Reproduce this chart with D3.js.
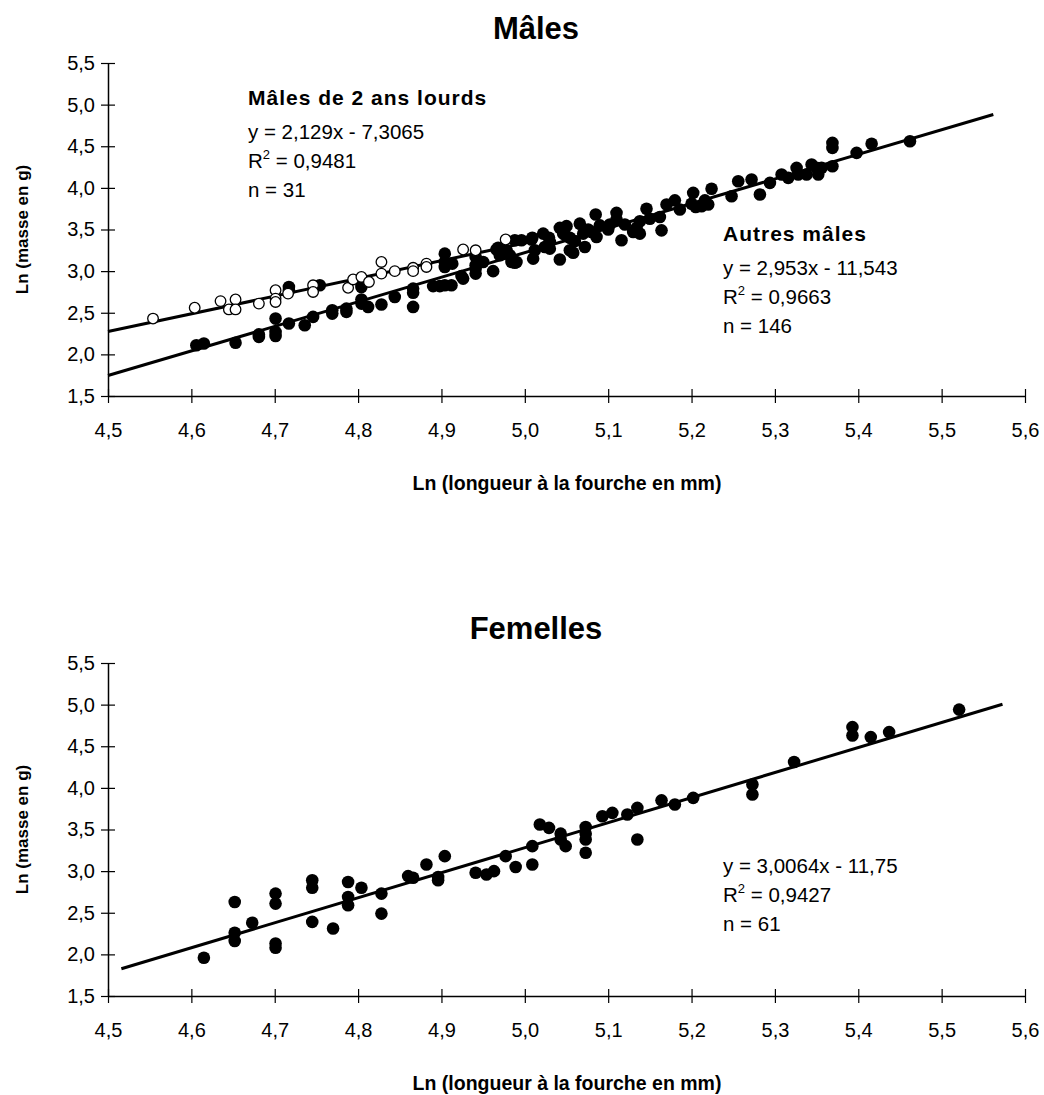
<!DOCTYPE html>
<html>
<head>
<meta charset="utf-8">
<script src="https://cdn.jsdelivr.net/npm/d3@7"></script>
<style>
  body { margin: 0; background: #fff; }
  svg { font-family: "Liberation Sans", Arial, sans-serif; }
</style>
</head>
<body>
<svg id="chart" width="1044" height="1095"></svg>
<script>
// x ticks and y ticks shared by both panels
const xTicks = [4.5, 4.6, 4.7, 4.8, 4.9, 5.0, 5.1, 5.2, 5.3, 5.4, 5.5, 5.6];
const yTicks = [1.5, 2.0, 2.5, 3.0, 3.5, 4.0, 4.5, 5.0, 5.5];

// Mâles de 2 ans lourds (open circles)
const malesHeavy = [
  [4.554, 2.43], [4.604, 2.56], [4.635, 2.64], [4.645, 2.54], [4.653, 2.66],
  [4.653, 2.54], [4.681, 2.61], [4.701, 2.77], [4.701, 2.67], [4.701, 2.63],
  [4.716, 2.73], [4.746, 2.83], [4.746, 2.75], [4.788, 2.80], [4.794, 2.90],
  [4.804, 2.93], [4.813, 2.87], [4.828, 3.11], [4.828, 2.97], [4.844, 3.00],
  [4.866, 3.04], [4.866, 3.00], [4.882, 3.09], [4.882, 3.05], [4.926, 3.26],
  [4.941, 3.25], [4.977, 3.38]
];

// Autres mâles (filled circles)
const malesOther = [
  [4.606, 2.11], [4.615, 2.13], [4.653, 2.14], [4.681, 2.24], [4.681, 2.21],
  [4.701, 2.43], [4.701, 2.27], [4.701, 2.22], [4.717, 2.37], [4.717, 2.81],
  [4.717, 2.77], [4.736, 2.35], [4.746, 2.45], [4.754, 2.83], [4.769, 2.49],
  [4.769, 2.53], [4.786, 2.51], [4.786, 2.55], [4.804, 2.66], [4.804, 2.61],
  [4.804, 2.81], [4.804, 2.86], [4.812, 2.57], [4.828, 2.60], [4.844, 2.69],
  [4.866, 2.79], [4.866, 2.74], [4.866, 2.57], [4.890, 2.82], [4.898, 2.82],
  [4.904, 2.83], [4.904, 3.21], [4.904, 3.11], [4.904, 3.05], [4.912, 2.83],
  [4.913, 3.09], [4.924, 2.94], [4.926, 2.91], [4.941, 2.97], [4.941, 3.03],
  [4.941, 3.17], [4.941, 3.07], [4.950, 3.11], [4.962, 3.00], [4.966, 3.26],
  [4.968, 3.28], [4.970, 3.19], [4.978, 3.25], [4.982, 3.19], [4.984, 3.11],
  [4.988, 3.37], [4.988, 3.10], [4.990, 3.11], [4.996, 3.37], [5.008, 3.38],
  [5.009, 3.40], [5.010, 3.15], [5.012, 3.25], [5.022, 3.45], [5.024, 3.29],
  [5.029, 3.40], [5.030, 3.35], [5.030, 3.27], [5.042, 3.52], [5.042, 3.14],
  [5.046, 3.45], [5.048, 3.44], [5.050, 3.54], [5.054, 3.25], [5.054, 3.40],
  [5.058, 3.22], [5.060, 3.36], [5.066, 3.57], [5.070, 3.45], [5.072, 3.29],
  [5.076, 3.50], [5.080, 3.47], [5.085, 3.68], [5.086, 3.41], [5.090, 3.55],
  [5.100, 3.50], [5.102, 3.56], [5.110, 3.70], [5.110, 3.62], [5.116, 3.37],
  [5.120, 3.56], [5.130, 3.47], [5.134, 3.52], [5.138, 3.60], [5.138, 3.45],
  [5.146, 3.75], [5.150, 3.63], [5.162, 3.65], [5.164, 3.49], [5.170, 3.80],
  [5.180, 3.85], [5.186, 3.74], [5.200, 3.81], [5.202, 3.94], [5.205, 3.77],
  [5.212, 3.78], [5.216, 3.85], [5.220, 3.80], [5.224, 3.99], [5.248, 3.90],
  [5.256, 4.08], [5.272, 4.10], [5.282, 3.92], [5.294, 4.06], [5.308, 4.16],
  [5.316, 4.12], [5.326, 4.24], [5.328, 4.16], [5.338, 4.16], [5.344, 4.28],
  [5.350, 4.24], [5.352, 4.16], [5.356, 4.24], [5.369, 4.54], [5.369, 4.48],
  [5.369, 4.26], [5.398, 4.42], [5.416, 4.53], [5.462, 4.56]
];

// Femelles
const females = [
  [4.615, 1.96], [4.652, 2.63], [4.652, 2.26], [4.652, 2.16], [4.673, 2.38],
  [4.701, 2.73], [4.701, 2.61], [4.701, 2.13], [4.701, 2.08], [4.745, 2.89],
  [4.745, 2.80], [4.745, 2.39], [4.770, 2.31], [4.788, 2.87], [4.788, 2.69],
  [4.788, 2.59], [4.804, 2.80], [4.828, 2.73], [4.828, 2.49], [4.860, 2.94],
  [4.866, 2.92], [4.882, 3.08], [4.896, 2.93], [4.896, 2.89], [4.904, 3.18],
  [4.941, 2.98], [4.954, 2.96], [4.963, 3.00], [4.977, 3.18], [4.989, 3.05],
  [5.009, 3.30], [5.009, 3.08], [5.018, 3.56], [5.029, 3.52], [5.043, 3.45],
  [5.043, 3.38], [5.049, 3.30], [5.073, 3.53], [5.073, 3.45], [5.073, 3.38],
  [5.073, 3.22], [5.093, 3.66], [5.105, 3.70], [5.123, 3.68], [5.135, 3.76],
  [5.135, 3.38], [5.164, 3.85], [5.180, 3.80], [5.202, 3.88], [5.273, 4.04],
  [5.273, 3.92], [5.323, 4.31], [5.393, 4.73], [5.393, 4.63], [5.415, 4.61],
  [5.437, 4.67], [5.521, 4.94]
];

// trendlines: slope, intercept, x range
const trendHeavy = { a: 2.129, b: -7.3065, x0: 4.5, x1: 5.01 };
const trendOther = { a: 2.953, b: -11.543, x0: 4.5, x1: 5.562 };
const trendFemales = { a: 3.0064, b: -11.75, x0: 4.516, x1: 5.573 };

const svg = d3.select('#chart');
const fmt = d => d3.format('.1f')(d).replace('.', ',');

function drawPanel(top, title, datasets, trends, notes) {
  const x = d3.scaleLinear().domain([4.5, 5.6]).range([108, 1025]);
  const y = d3.scaleLinear().domain([1.5, 5.5]).range([top + 333, top]);
  const g = svg.append('g');

  g.append('text')
    .attr('x', 536).attr('y', top - 24)
    .attr('text-anchor', 'middle')
    .attr('font-size', 31).attr('font-weight', 'bold')
    .text(title);

  // x axis
  const xa = g.append('g')
    .attr('transform', `translate(0,${y(1.5)})`)
    .call(d3.axisBottom(x).tickValues(xTicks).tickFormat(fmt).tickSizeOuter(0));
  xa.select('.domain').attr('stroke-width', 1.5);
  xa.selectAll('.tick line').attr('y1', -7).attr('y2', 7).attr('stroke-width', 1.2);
  xa.selectAll('.tick text').attr('y', 27).attr('font-size', 20).attr('fill', '#000')
    .attr('font-family', '"Liberation Sans", Arial, sans-serif');

  // y axis
  const ya = g.append('g')
    .attr('transform', `translate(${x(4.5)},0)`)
    .call(d3.axisLeft(y).tickValues(yTicks).tickFormat(fmt).tickSizeOuter(0));
  ya.select('.domain').attr('stroke-width', 1.5);
  ya.selectAll('.tick line').attr('x1', -7).attr('x2', 7).attr('stroke-width', 1.2);
  ya.selectAll('.tick text').attr('x', -13).attr('font-size', 20).attr('fill', '#000')
    .attr('font-family', '"Liberation Sans", Arial, sans-serif');

  // axis titles
  g.append('text')
    .attr('x', 567).attr('y', y(1.5) + 94)
    .attr('text-anchor', 'middle')
    .attr('font-size', 19.5).attr('font-weight', 'bold')
    .text('Ln (longueur à la fourche en mm)');
  g.append('text')
    .attr('transform', `translate(28,${(y(1.5) + y(5.5)) / 2}) rotate(-90)`)
    .attr('text-anchor', 'middle')
    .attr('font-size', 17).attr('font-weight', 'bold')
    .text('Ln (masse en g)');

  // trendlines
  for (const t of trends) {
    g.append('line')
      .attr('x1', x(t.x0)).attr('y1', y(t.a * t.x0 + t.b))
      .attr('x2', x(t.x1)).attr('y2', y(t.a * t.x1 + t.b))
      .attr('stroke', '#000').attr('stroke-width', 3);
  }

  // points
  for (const ds of datasets) {
    g.append('g').selectAll('circle')
      .data(ds.data)
      .enter().append('circle')
      .attr('cx', d => x(d[0]))
      .attr('cy', d => y(d[1]))
      .attr('r', ds.open ? 5.3 : 6.3)
      .attr('fill', ds.open ? '#fff' : '#000')
      .attr('stroke', '#000')
      .attr('stroke-width', ds.open ? 1.3 : 0);
  }

  // annotations
  for (const n of notes) {
    const t = g.append('g').attr('transform', `translate(${n.x},${top + n.y})`);
    let yy = 0;
    n.lines.forEach((line, i) => {
      if (i > 0) yy += (n.lines[i - 1].bold ? 34 : 29);
      const txt = t.append('text')
        .attr('y', yy)
        .attr('font-size', line.bold ? 21 : 20.5)
        .attr('font-weight', line.bold ? 'bold' : 'normal')
        .attr('letter-spacing', line.bold ? 1 : 0);
      if (line.sup) {
        txt.append('tspan').text('R');
        txt.append('tspan').attr('dy', -9).attr('font-size', 13).text('2');
        txt.append('tspan').attr('dy', 9).text(line.sup);
      } else {
        txt.text(line.text);
      }
    });
  }
}

drawPanel(63, 'Mâles',
  [{ data: malesOther, open: false }, { data: malesHeavy, open: true }],
  [trendHeavy, trendOther],
  [
    { x: 248, y: 42, lines: [
      { text: 'Mâles de 2 ans lourds', bold: true },
      { text: 'y = 2,129x - 7,3065' },
      { sup: ' = 0,9481' },
      { text: 'n = 31' }
    ] },
    { x: 723, y: 178, lines: [
      { text: 'Autres mâles', bold: true },
      { text: 'y = 2,953x - 11,543' },
      { sup: ' = 0,9663' },
      { text: 'n = 146' }
    ] }
  ]);

drawPanel(663, 'Femelles',
  [{ data: females, open: false }],
  [trendFemales],
  [
    { x: 723, y: 210, lines: [
      { text: 'y = 3,0064x - 11,75' },
      { sup: ' = 0,9427' },
      { text: 'n = 61' }
    ] }
  ]);
</script>
</body>
</html>
